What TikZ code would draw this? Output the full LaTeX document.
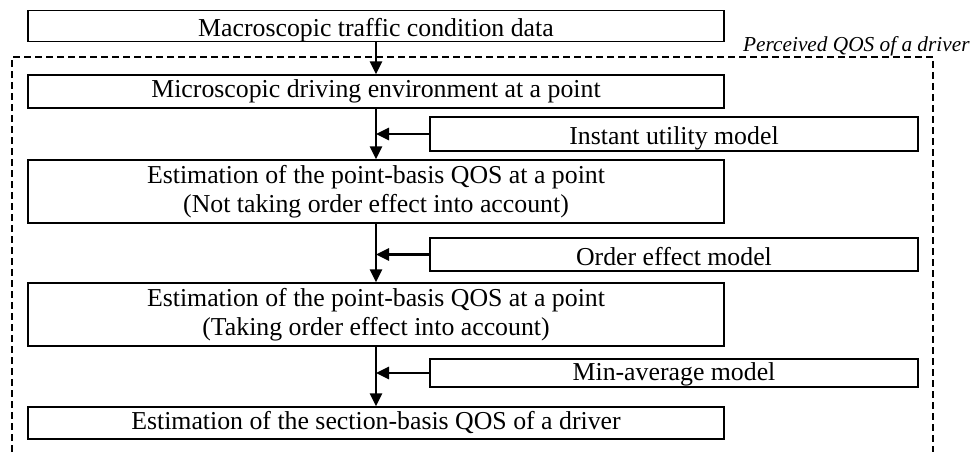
\documentclass[tikz,border=0pt]{standalone}
\usepackage{fontspec}
\setmainfont{Liberation Serif}
\usetikzlibrary{arrows.meta, positioning}

\begin{document}
\begin{tikzpicture}[x=1pt, y=-1pt,
        box/.style={draw, line width=1.3pt, inner sep=0pt, align=center,
            minimum width=696pt, font=\fontsize{25.8}{29}\selectfont},
        model/.style={draw, line width=1.3pt, inner sep=0pt, align=center,
            minimum width=488pt, text height=21pt, text depth=0pt,
            font=\fontsize{25.8}{29}\selectfont},
        flow/.style={line width=2.6pt, -{Triangle[length=13pt, width=12pt]}}]
        \useasboundingbox (0, 0) rectangle (973, 452);

        % region of the driver's perception
        \draw[dashed, line width=1.2pt, dash pattern=on 7pt off 4pt]
            (12, 452) -- (12, 57) -- (933, 57) -- (933, 452);
        \node[anchor=base west, inner sep=0pt, font=\fontsize{21.3}{24}\selectfont\itshape]
            (perceived) at (743, 52) {Perceived QOS of a driver};

        \node[box, minimum height=31pt, text height=22pt, text depth=0pt] (macro) at (376, 26)
            {Macroscopic traffic condition data};
        \node[box, minimum height=33pt] (micro) at (376, 91.5) {Microscopic driving environment at a point};
        \node[box, minimum height=63pt] (estnot) at (376, 191.5)
            {Estimation of the point-basis QOS at a point\\(Not taking order effect into account)};
        \node[box, minimum height=63pt] (esttake) at (376, 314.5)
            {Estimation of the point-basis QOS at a point\\(Taking order effect into account)};
        \node[box, minimum height=32pt] (section) at (376, 423) {Estimation of the section-basis QOS of a driver};

        \node[model, minimum height=34pt] (utility) at (674, 134) {Instant utility model};
        \node[model, minimum height=33pt] (order) at (674, 254.5) {Order effect model};
        \node[model, minimum height=28pt, text height=14pt] (minavg) at (674, 373) {Min-average model};

        \draw[flow] (macro) -- (micro);
        \draw[flow] (micro) -- (estnot);
        \draw[flow] (estnot) -- (esttake);
        \draw[flow] (esttake) -- (section);

        \draw[flow] (utility.west) -- (utility.west -| micro.south);
        \draw[flow] (order.west) -- (order.west -| estnot.south);
        \draw[flow] (minavg.west) -- (minavg.west -| esttake.south);
\end{tikzpicture}
\end{document}
